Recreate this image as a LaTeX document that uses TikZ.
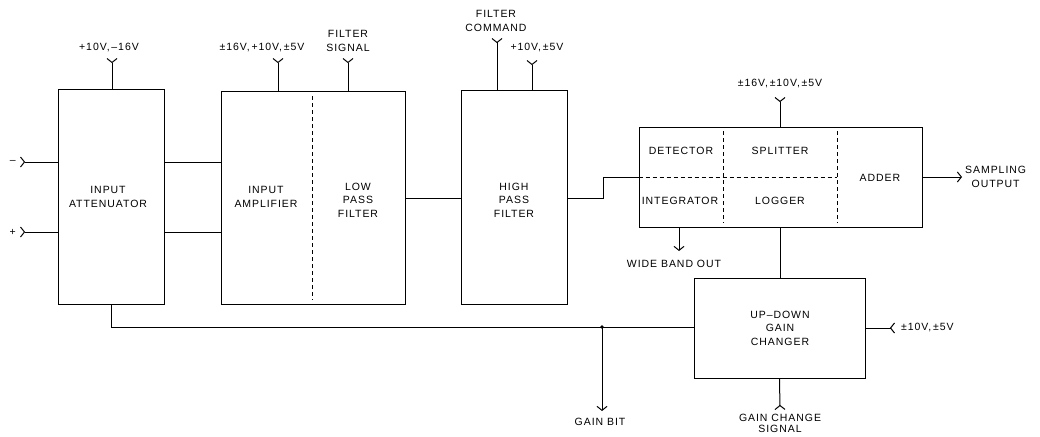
\documentclass[tikz,border=0pt]{standalone}
\usepackage{fontspec}
\setmainfont{Liberation Sans}[LetterSpace=9]
\usetikzlibrary{arrows.meta}
\begin{document}
\begin{tikzpicture}[x=1pt,y=-1pt,
  every node/.style={font=\fontsize{10.5}{13.5}\selectfont, inner sep=0pt},
  blk/.style={draw, line width=1pt, rectangle},
  lbl/.style={align=center},
  wire/.style={line width=1pt},
  dsh/.style={line width=1pt, dash pattern=on 4pt off 3pt},
  forkend/.style={wire, -{Straight Barb[reversed,length=4pt,width=10pt,line width=1pt]}},
  forkstart/.style={wire, {Straight Barb[reversed,length=4pt,width=10pt,line width=1pt]}-},
  outarrow/.style={wire, -{Straight Barb[length=4pt,width=10pt,line width=1pt]}}]
\useasboundingbox (0,0) rectangle (1040,436);
\fill[white] (0,0) rectangle (1040,436);

% blocks
\node[blk, minimum width=106pt, minimum height=215pt] (att) at (111,196.5) {};
\node[blk, minimum width=184pt, minimum height=213pt] (amp) at (313,197.5) {};
\node[blk, minimum width=106pt, minimum height=214pt] (hp) at (514,197) {};
\node[blk, minimum width=283pt, minimum height=100pt] (big) at (780.5,177) {};
\node[blk, minimum width=171pt, minimum height=100pt] (gc) at (779.5,328) {};

% internal dashed dividers
\draw[dsh] (312,96) -- (312,300);
\draw[dsh] (723,131) -- (723,223);
\draw[dsh] (837,131) -- (837,223);
\draw[dsh] (big.west |- 0,177) -- (837,177);

% texts in blocks
\node[lbl] (tatt) at (108,197) {INPUT\\ATTENUATOR};
\node[lbl] (tamp) at (266,197) {INPUT\\AMPLIFIER};
\node[lbl] (tlp) at (358,200) {LOW\\PASS\\FILTER};
\node[lbl] (thp) at (514,200) {HIGH\\PASS\\FILTER};
\node[lbl] (tdet) at (681,151) {DETECTOR};
\node[lbl] (tspl) at (780,151) {SPLITTER};
\node[lbl] (tint) at (680,201) {INTEGRATOR};
\node[lbl] (tlog) at (780,201) {LOGGER};
\node[lbl] (tadd) at (880,178) {ADDER};
\node[lbl] (tgc) at (780,328) {UP--DOWN\\GAIN\\CHANGER};

% inputs
\coordinate (inm) at (20,162);
\coordinate (inp) at (20,232);
\node[anchor=east] (lm) at (16,162) {--};
\node[anchor=east] (lp) at (16,232) {+};
\draw[forkstart] (inm) -- (att.west |- inm);
\draw[forkstart] (inp) -- (att.west |- inp);

% attenuator to amplifier
\draw[wire] (att.east |- 0,162) -- (amp.west |- 0,162);
\draw[wire] (att.east |- 0,232) -- (amp.west |- 0,232);
% amplifier to high pass
\draw[wire] (amp.east |- 0,198) -- (hp.west |- 0,198);
% high pass to big block
\coordinate (bend) at (603,198);
\draw[wire] (hp.east |- bend) -- (bend) -- (bend |- big.west) -- (big.west);

% power/top inputs
\coordinate (patt) at (112,58);
\draw[forkend] (att.north -| patt) -- (patt);
\node (lpatt) at (109,48) {+10V,\,--16V};

\coordinate (pamp) at (278,58);
\draw[forkend] (amp.north -| pamp) -- (pamp);
\node (lpamp) at (262,48) {±16V,\,+10V,\,±5V};

\coordinate (pfs) at (348,58);
\draw[forkend] (amp.north -| pfs) -- (pfs);
\node[lbl] (lpfs) at (348,41) {FILTER\\SIGNAL};

\coordinate (pfc) at (497,38);
\draw[forkend] (hp.north -| pfc) -- (pfc);
\node[lbl] (lpfc) at (496,21) {FILTER\\COMMAND};

\coordinate (php) at (532,60);
\draw[forkend] (hp.north -| php) -- (php);
\node (lphp) at (537,48) {+10V,\,±5V};

\coordinate (pbig) at (780,97);
\draw[forkend] (big.north -| pbig) -- (pbig);
\node (lpbig) at (780,84) {±16V,\,±10V,\,±5V};

% outputs
\coordinate (sout) at (962,177);
\draw[outarrow] (big.east) -- (sout);
\node[lbl, anchor=west] (lsout) at (965,177) {SAMPLING\\OUTPUT};

\coordinate (wout) at (679,251);
\draw[outarrow] (big.south -| wout) -- (wout);
\node (lwout) at (674,264) {WIDE BAND OUT};

% big to gain changer
\draw[wire] (big.south) -- (big.south |- gc.north);

% bus from attenuator to gain changer
\coordinate (bus) at (111,327);
\coordinate (jn) at (602,327);
\draw[wire] (att.south) -- (bus) -- (gc.west |- bus) ;
\fill (jn) circle (1.8pt);
\coordinate (gbit) at (602,411);
\draw[outarrow] (jn) -- (gbit);
\node (lgbit) at (600,422) {GAIN BIT};

% gain changer side inputs
\coordinate (pgc) at (895,328);
\draw[forkend] (gc.east) -- (pgc);
\node[anchor=west] (lpgc) at (901,328) {±10V,\,±5V};

\coordinate (gcs) at (780,410);
\draw[forkend] (gc.south) -- (gcs);
\node[lbl, font=\fontsize{10.5}{11.5}\selectfont] (lgcs) at (780,423.5) {GAIN CHANGE\\SIGNAL};
\end{tikzpicture}
\end{document}
